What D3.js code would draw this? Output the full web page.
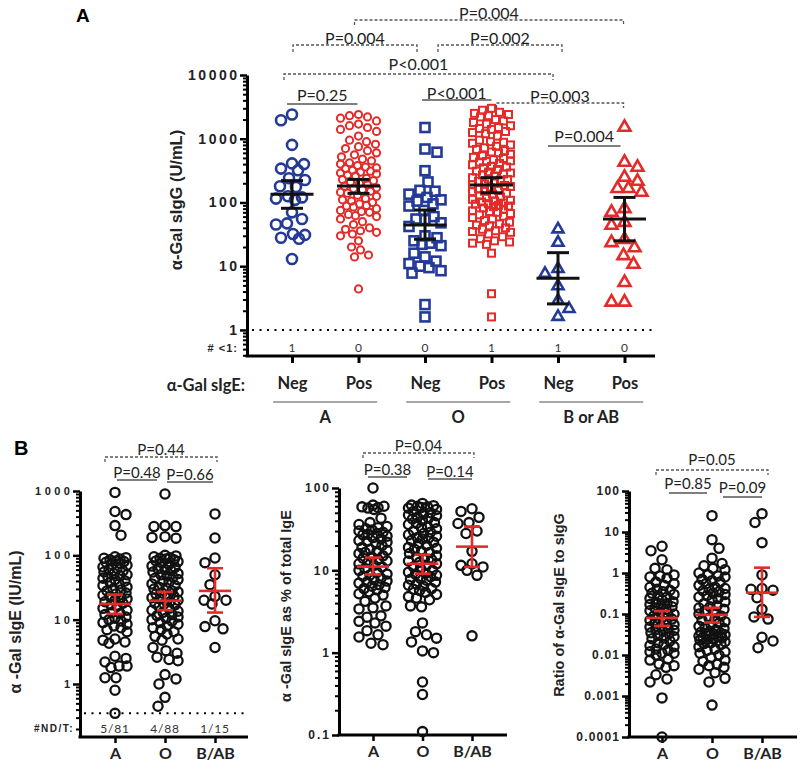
<!DOCTYPE html>
<html><head><meta charset="utf-8">
<script src="https://cdn.jsdelivr.net/npm/d3@7"></script>
<style>body{margin:0;background:#fff} svg{display:block}</style>
</head><body><svg id="c" width="800" height="770"></svg>
<script>
// ================= DATA =================
// Panel A: alpha-Gal sIgG by blood group and alpha-Gal sIgE status
const aCategories = ["A-Neg","A-Pos","O-Neg","O-Pos","B-Neg","B-Pos"];
const aSigELabels = ["Neg","Pos","Neg","Pos","Neg","Pos"];
const aGroupLabels = ["A","O","B or AB"];
const aBelowOne = [1,0,0,1,1,0];
const aTicks = [1,10,100,1000,10000];

const aANeg = [2400,1950,800,410,400,340,320,240,225,180,175,125,120,115,110,70,55,47,45,32,31,28,27,13];
const aAPos = [2400,2300,2200,2100,1900,1700,1600,1500,1400,1300,1100,950,900,820,750,700,650,600,560,520,
  480,450,420,400,380,360,350,340,320,310,300,290,280,270,260,240,230,220,210,200,190,180,170,165,160,150,145,140,130,125,
  115,110,105,100,95,90,88,85,80,75,72,70,65,62,60,55,50,45,40,38,36,34,32,30,25,20,18,15,14,4.4];
const aONeg = [1500,690,615,315,210,155,150,135,120,110,105,95,88,75,60,55,54,48,42,30,28,25,23,22,21,16,14,12,11,10,9.5,8.5,7.8,2.5,1.6];
const aOPos = [3000,2800,2600,2500,2400,2300,2200,2000,1900,1800,1700,1600,1500,1450,1400,1300,1250,1200,1100,
  950,900,880,850,800,760,720,680,650,620,600,570,540,510,
  490,470,450,440,430,410,390,370,360,350,330,310,300,290,280,270,260,
  245,235,230,225,215,205,195,190,185,178,170,162,155,150,148,140,135,128,122,
  118,112,108,105,102,98,96,94,90,88,86,82,78,74,72,70,67,64,61,
  58,55,52,49,46,44,43,40,38,36,35,34,32,29,27,25,24,23,22,16,3.7,1.6];
const aBNeg = [39,24,9.3,7.8,5,2.95,2.2,1.65];
const aBPos = [1550,437,365,255,220,170,170,148,82,72,50,45,27,24,20,15,11,5.7,2.8,2.8];
const aSeries = [aANeg,aAPos,aONeg,aOPos,aBNeg,aBPos];
const aMean = [134,182,44.5,188,6.5,55];
const aCILow = [81,139,26.5,142,2.56,25];
const aCIHigh = [220,230,76,245,16.3,120];
const aPLabels = ["P=0.004","P=0.004","P=0.002","P<0.001","P=0.25","P<0.001","P=0.003","P=0.004"];
const aPFrom = [1,0,2,0,0,2,3,4];
const aPTo = [5,2,4,4,1,3,5,5];
const aPDashed = [true,true,true,true,false,false,true,false];

// Panel B
const bCategories = ["A","O","B/AB"];
const b1NDT = ["5/81","4/88","1/15"];
const b1Ticks = [1,10,100,1000];
const b2Ticks = [0.1,1,10,100];
const b3Ticks = [0.0001,0.001,0.01,0.1,1,10,100];

const b1A = [950,480,430,290,205,95,92,90,88,85,82,80,78,75,72,70,66,63,60,57,55,52,50,
  48,46,44,42,40,38,36,34,32,30,29,28,26,25,24,23,22,21,20,
  19,18,17,16,15,14,13,12.5,12,11,10.5,10,9.5,9,8.5,8,7.5,
  7,6.5,5,4.8,4.5,4.3,2.7,2.5,2.2,1.9,1.9,1.8,1.25,1.25,0.8,0.35];
const b1O = [900,290,280,280,195,190,185,100,98,95,92,90,88,85,82,80,76,72,68,65,62,60,58,55,52,50,
  48,46,44,42,40,38,36,34,32,31,30,28,27,26,25,24,23,22,21,20,
  19,18,17.5,17,16,15,14,13.5,13,12,11.5,11,10.5,10,9.5,9,8.5,8,
  7.5,7,6.5,6,5.5,5,4.8,3.7,3.3,3.0,2.6,2.4,2.3,1.4,1.2,1.0,0.62,0.45];
const b1B = [440,186,91,77,50,35,23,20,20,17.5,9.6,7.8,7.2,3.7];
const b1Mean = [17.5,19.7,28];
const b1Low = [12.3,14,12.9];
const b1High = [24.5,27,63];

const b2A = [100,62,60,59,58,57,55,43,38,36,34,33,32,31,30,29,28,27.5,27,26,25,24,23,22.5,22,21,20,
  19,18,17.5,17,16.5,16,15,14.5,14,13.5,13,12.5,12,11.5,11,10.5,10,
  9.5,9,8.8,8.5,8,7.7,7.4,7.2,7,6.7,6.4,6.2,6,5.8,5.5,5.2,5,
  4.6,4.2,3.7,3.5,3.4,2.8,2.7,2.4,2.3,2.1,1.85,1.65,1.55,1.3,1.25];
const b2O = [65,62,61,60,59,58,57,55,52,50,48,47,46,44,43,42,40,38,37,36,
  34,33,32,30,29,28,27,26,25,24.5,24,23,22,21,20,
  19,18.5,18,17,16.5,16,15,14.5,14,13.5,13,12.5,12,11.5,11,10.5,10,
  9.5,9.2,9,8.7,8.4,8,7.8,7.6,7.2,6.8,6.6,6.4,6,5.9,5.7,5.4,5.1,
  4.8,4.6,4.4,3.7,3.6,2.3,1.8,1.65,1.5,1.35,1.05,1.0,0.44,0.31,0.11];
const b2B = [56,52,44,38,37,30,28,17,12,11.5,11,10,8.7,1.6];
const b2Mean = [11.1,12,19.4];
const b2Low = [8.9,9.1,11];
const b2High = [14.3,15.5,34];

const b3A = [4.5,3.5,2.1,1.3,1.2,0.9,0.85,0.8,0.75,0.6,0.55,0.5,
  0.45,0.4,0.38,0.35,0.32,0.3,0.28,0.26,0.24,0.22,0.2,0.19,0.18,0.17,0.16,0.15,0.14,0.13,0.12,0.11,0.1,
  0.095,0.09,0.085,0.08,0.075,0.07,0.065,0.06,0.055,0.05,0.048,0.045,0.042,0.04,0.038,0.035,0.033,0.03,
  0.028,0.026,0.025,0.022,0.02,0.018,0.017,0.016,0.014,0.013,0.012,0.011,0.011,0.01,
  0.008,0.0075,0.006,0.0055,0.005,0.0033,0.0026,0.0022,0.0009,0.0001];
const b3O = [25,6.5,4,2.3,1.7,1.5,1.3,1.2,1.0,0.9,0.85,0.8,0.7,0.65,0.6,0.55,0.5,
  0.45,0.42,0.4,0.37,0.35,0.32,0.3,0.28,0.26,0.24,0.22,0.2,0.18,0.16,0.15,0.14,0.13,0.12,0.11,0.1,
  0.09,0.08,0.075,0.07,0.065,0.06,0.055,0.05,0.047,0.044,0.041,0.038,0.036,0.034,0.033,0.032,0.031,0.03,
  0.029,0.028,0.027,0.026,0.025,0.024,0.023,0.022,0.021,0.02,0.019,
  0.018,0.016,0.014,0.013,0.012,0.011,0.01,0.0085,0.0075,0.007,0.006,0.0055,0.005,
  0.0045,0.0037,0.0027,0.0022,0.0006];
const b3B = [28,17,5.5,0.9,0.42,0.4,0.38,0.25,0.13,0.085,0.075,0.027,0.022,0.015];
const b3Mean = [0.08,0.095,0.33];
const b3Low = [0.051,0.062,0.085];
const b3High = [0.118,0.142,1.35];

const bPLabels = [["P=0.44","P=0.48","P=0.66"],["P=0.04","P=0.38","P=0.14"],["P=0.05","P=0.85","P=0.09"]];

// ================= DRAWING =================
const svg = d3.select("#c");
const BLUE = "#233a97", RED = "#e52b2a";
const FT = "Lato, 'Open Sans', sans-serif";
const FA = "'Liberation Sans', Arial, sans-serif";

function minorTicks(lo, hi){
  const t=[];
  for(let e=Math.floor(Math.log10(lo)); e<=Math.ceil(Math.log10(hi)); e++){
    for(let m=2;m<=9;m++){const v=m*Math.pow(10,e); if(v>=lo*0.999 && v<=hi) t.push(v);}
  }
  return t;
}

function drawYAxis(g, y, ticks, minorLo, fontSize, ls){
  const minors = minorTicks(minorLo, ticks[ticks.length-1]);
  g.append("g").call(d3.axisLeft(y).tickValues(minors).tickSize(4).tickFormat("").tickSizeOuter(0))
    .call(s=>{s.select(".domain").remove(); s.selectAll("line").attr("stroke","#000").attr("stroke-width",2);});
  g.append("g").call(d3.axisLeft(y).tickValues(ticks).tickSize(7).tickSizeOuter(0)
      .tickFormat(d=> d>=1 ? d3.format("d")(d) : String(d)))
    .call(s=>{s.select(".domain").attr("stroke","#000").attr("stroke-width",3);
      s.selectAll("line").attr("stroke","#000").attr("stroke-width",2.5);
      s.selectAll("text").attr("font-family",FA).attr("font-weight","bold").attr("font-size",fontSize)
        .attr("letter-spacing",ls).attr("dx",ls).attr("fill","#222");});
}

// beeswarm: place each point as close to the centre as possible without overlap,
// within a maximum half-width; if no free slot exists, take the least crowded one.
function swarm(values, y, cx, diam, maxHalf){
  const pts = values.map(v=>({v, y:y(v)})).sort((a,b)=>a.y-b.y);
  const placed=[];
  const cands=[0];
  for(let k=1;k<=maxHalf;k++){cands.push(k); cands.push(-k);}
  pts.forEach((p,idx)=>{
    let best=0, bestD=-1;
    const near = placed.filter(q=>Math.abs(q.y-p.y)<diam);
    for(const c0 of cands){
      const c = (idx%2 ? -c0 : c0);
      let minD=Infinity;
      for(const q of near){ const d=Math.hypot(q.dx-c, q.y-p.y); if(d<minD) minD=d; }
      if(minD>=diam){ best=c; bestD=minD; break; }
      if(minD>bestD+0.01){ bestD=minD; best=c; }
    }
    p.dx=best; p.x=cx+best; placed.push(p);
  });
  return pts;
}

function drawMean(g, x, y, mean, lo, hi, half, cap, color, sw){
  g.append("line").attr("x1",x-half).attr("x2",x+half).attr("y1",y(mean)).attr("y2",y(mean)).attr("stroke",color).attr("stroke-width",sw);
  g.append("line").attr("x1",x).attr("x2",x).attr("y1",y(lo)).attr("y2",y(hi)).attr("stroke",color).attr("stroke-width",sw);
  [lo,hi].forEach(v=>g.append("line").attr("x1",x-cap).attr("x2",x+cap).attr("y1",y(v)).attr("y2",y(v)).attr("stroke",color).attr("stroke-width",sw));
}

function bracket(g, x1, x2, yy, tick, label, dashed, textY, fs){
  if(dashed){
    g.append("path").attr("d",`M${x1},${yy+tick}V${yy}H${x2}V${yy+tick}`).attr("fill","none")
      .attr("stroke","#555").attr("stroke-width",1.3).attr("stroke-dasharray","3,2");
  } else {
    g.append("line").attr("x1",x1).attr("x2",x2).attr("y1",yy).attr("y2",yy).attr("stroke","#555").attr("stroke-width",1.5);
  }
  g.append("text").attr("x",(x1+x2)/2).attr("y",textY).attr("text-anchor","middle").attr("dominant-baseline","central")
    .attr("font-family",FT).attr("font-size",fs).attr("fill","#222").text(label);
}

// ---------- Panel A ----------
{
  const g = svg.append("g");
  const x = d3.scalePoint().domain(d3.range(6)).range([292,624.5]);
  const y = d3.scaleLog().domain([0.39,10000]).range([356,75]);
  drawYAxis(g.append("g").attr("transform","translate(247,0)"), y, aTicks, 0.4, 14, 2.5);
  g.append("g").attr("transform","translate(0,356)")
    .call(d3.axisBottom(x).tickSize(7).tickSizeOuter(0).tickPadding(14).tickFormat(i=>aSigELabels[i]))
    .call(s=>{s.select(".domain").attr("d","M245.5,0H655").attr("stroke","#000").attr("stroke-width",3);
      s.selectAll("line").attr("stroke","#000").attr("stroke-width",3);
      s.selectAll("text").attr("font-family",FT).attr("font-weight","bold").attr("font-size",16.5).attr("fill","#222");});
  g.append("line").attr("x1",252).attr("x2",655).attr("y1",y(1)).attr("y2",y(1))
    .attr("stroke","#000").attr("stroke-width",2).attr("stroke-dasharray","2,5.5");
  g.append("text").attr("x",238).attr("y",348).attr("text-anchor","end").attr("dominant-baseline","central")
    .attr("font-family",FA).attr("font-weight","bold").attr("font-size",11).attr("letter-spacing",1).attr("fill","#222").text("# <1:");
  aBelowOne.forEach((c,i)=>g.append("text").attr("x",x(i)).attr("y",347).attr("text-anchor","middle").attr("dominant-baseline","central")
    .attr("font-family",FT).attr("font-size",12).attr("fill","#333").text(c));
  g.append("text").attr("x",245).attr("y",385).attr("text-anchor","end").attr("dominant-baseline","central")
    .attr("font-family",FT).attr("font-weight","bold").attr("font-size",16.5).attr("fill","#222").text("α-Gal sIgE:");
  aGroupLabels.forEach((lab,k)=>{
    const cx = (x(2*k)+x(2*k+1))/2;
    g.append("line").attr("x1",cx-52).attr("x2",cx+52).attr("y1",402).attr("y2",402).attr("stroke","#888").attr("stroke-width",1.5);
    g.append("text").attr("x",cx).attr("y",417).attr("text-anchor","middle").attr("dominant-baseline","central")
      .attr("font-family",FT).attr("font-weight","bold").attr("font-size",16.5).attr("fill","#222").text(lab);
  });
  g.append("text").attr("transform","translate(176,200) rotate(-90)").attr("text-anchor","middle").attr("dominant-baseline","central")
    .attr("font-family",FA).attr("font-weight","bold").attr("font-size",16.5).attr("fill","#222").text("α-Gal sIgG (U/mL)");
  g.append("text").attr("x",76).attr("y",15).attr("dominant-baseline","central").attr("font-family",FA).attr("font-weight","bold").attr("font-size",19).text("A");

  const styles = [
    {shape:"circle", color:BLUE, size:5, sw:2.6, diam:12, half:16},
    {shape:"circle", color:RED, size:3.6, sw:2, diam:9, half:18},
    {shape:"square", color:BLUE, size:9, sw:2.6, diam:11.5, half:16},
    {shape:"square", color:RED, size:7, sw:2, diam:8.5, half:19},
    {shape:"triangle", color:BLUE, size:11, sw:2.6, diam:13, half:14},
    {shape:"triangle", color:RED, size:12, sw:2.6, diam:13, half:17}
  ];
  aSeries.forEach((vals,i)=>{
    const st = styles[i];
    const pts = swarm(vals, y, x(i), st.diam, st.half);
    const pg = g.append("g").attr("fill","none").attr("stroke",st.color).attr("stroke-width",st.sw);
    pts.forEach(p=>{
      if(st.shape==="circle") pg.append("circle").attr("cx",p.x).attr("cy",p.y).attr("r",st.size);
      else if(st.shape==="square") pg.append("rect").attr("x",p.x-st.size/2).attr("y",p.y-st.size/2).attr("width",st.size).attr("height",st.size);
      else { const s=st.size, h=s*0.87; pg.append("path").attr("d",`M${p.x},${p.y-h*0.6}L${p.x+s/2},${p.y+h*0.4}L${p.x-s/2},${p.y+h*0.4}Z`); }
    });
    drawMean(g, x(i), y, aMean[i], aCILow[i], aCIHigh[i], 21.5, 11, "#111", 3);
  });
  const lay = [ {y:20,t:5,ty:12,o1:-4,o2:-1}, {y:45,t:7,ty:37,o1:1,o2:-8}, {y:45,t:7,ty:37,o1:13,o2:4},
    {y:74,t:6,ty:63,o1:-8,o2:-5}, {y:104,t:0,ty:94,o1:-5,o2:-1}, {y:100,t:0,ty:92,o1:-3,o2:0},
    {y:103,t:5,ty:95,o1:5,o2:-1}, {y:146,t:0,ty:135,o1:-10,o2:-4} ];
  aPLabels.forEach((lab,k)=>{
    const L=lay[k];
    bracket(g, x(aPFrom[k])+L.o1, x(aPTo[k])+L.o2, L.y, L.t, lab, aPDashed[k], L.ty, 16);
  });
}

// ---------- Panel B ----------
svg.append("text").attr("x",14).attr("y",448).attr("dominant-baseline","central").attr("font-family",FA).attr("font-weight","bold").attr("font-size",20).text("B");

const bPanels = [
  {data:[b1A,b1O,b1B], mean:b1Mean, lo:b1Low, hi:b1High, ticks:b1Ticks, dom:[0.15,1000], range:[737,491], ax:80, xr:[115,215], xend:248,
   minorLo:0.2, fs:11, ls:3.5, label:"α -Gal sIgE (IU/mL)", lx:15, ly:622, lfs:16, half:[12,13,12],
   br:[{x1:105,x2:217,y:457,t:5,ty:449,d:true},{x1:117,x2:157,y:480,t:0,ty:472,d:false},{x1:167,x2:213,y:482,t:0,ty:474,d:false}]},
  {data:[b2A,b2O,b2B], mean:b2Mean, lo:b2Low, hi:b2High, ticks:b2Ticks, dom:[0.1,100], range:[735,488], ax:339, xr:[373,472], xend:507,
   minorLo:0.1, fs:12, ls:2, label:"α -Gal sIgE as % of total IgE", lx:286, ly:606, lfs:14.5, half:[14,14,14],
   br:[{x1:363,x2:474,y:453,t:5,ty:445,d:true},{x1:368,x2:407,y:477,t:0,ty:469,d:false},{x1:428,x2:472,y:479,t:0,ty:471,d:false}]},
  {data:[b3A,b3O,b3B], mean:b3Mean, lo:b3Low, hi:b3High, ticks:b3Ticks, dom:[0.0001,100], range:[737,491], ax:629, xr:[662,762], xend:797,
   minorLo:0.0001, fs:12, ls:1.2, label:"Ratio of α-Gal sIgE to sIgG", lx:559, ly:605, lfs:14.5, half:[12,13,14],
   br:[{x1:656,x2:768,y:470,t:5,ty:459,d:true},{x1:669,x2:707,y:493,t:0,ty:483,d:false},{x1:723,x2:762,y:497,t:0,ty:487,d:false}]}
];

bPanels.forEach((P,pi)=>{
  const g = svg.append("g");
  const y = d3.scaleLog().domain(P.dom).range(P.range);
  const x = d3.scalePoint().domain(bCategories).range(P.xr);
  drawYAxis(g.append("g").attr("transform",`translate(${P.ax},0)`), y, P.ticks, P.minorLo, P.fs, P.ls);
  g.append("g").attr("transform",`translate(0,${P.range[0]})`)
    .call(d3.axisBottom(x).tickSize(6).tickSizeOuter(0).tickPadding(5))
    .call(s=>{s.select(".domain").attr("d",`M${P.ax-1.5},0H${P.xend}`).attr("stroke","#000").attr("stroke-width",3);
      s.selectAll("line").attr("stroke","#000").attr("stroke-width",2.5);
      s.selectAll("text").attr("font-family",FT).attr("font-weight","bold").attr("font-size",16).attr("fill","#222");});
  g.append("text").attr("transform",`translate(${P.lx},${P.ly}) rotate(-90)`).attr("text-anchor","middle").attr("dominant-baseline","central")
    .attr("font-family",FA).attr("font-weight","bold").attr("font-size",P.lfs).attr("fill","#222").text(P.label);
  if(pi===0){
    g.append("line").attr("x1",84).attr("x2",248).attr("y1",y(0.35)).attr("y2",y(0.35)).attr("stroke","#000").attr("stroke-width",2).attr("stroke-dasharray","2,5.5");
    g.append("text").attr("x",74).attr("y",728).attr("text-anchor","end").attr("dominant-baseline","central")
      .attr("font-family",FA).attr("font-weight","bold").attr("font-size",10).attr("letter-spacing",1.5).attr("fill","#222").text("#ND/T:");
    b1NDT.forEach((t,i)=>g.append("text").attr("x",x(bCategories[i])).attr("y",728).attr("text-anchor","middle").attr("dominant-baseline","central")
      .attr("font-family",FT).attr("font-size",12).attr("letter-spacing",0.8).attr("fill","#333").text(t));
  }
  P.data.forEach((vals,i)=>{
    const cx = x(bCategories[i]);
    const pts = swarm(vals, y, cx, 11, P.half[i]);
    const pg = g.append("g").attr("fill","none").attr("stroke","#111").attr("stroke-width",2.3);
    pts.forEach(p=>pg.append("circle").attr("cx",p.x).attr("cy",p.y).attr("r",4.6));
  });
  P.data.forEach((vals,i)=>{
    drawMean(g, x(bCategories[i]), y, P.mean[i], P.lo[i], P.hi[i], 16, 8, RED, 2.6);
  });
  P.br.forEach((b,k)=>bracket(g, b.x1, b.x2, b.y, b.t, bPLabels[pi][k], b.d, b.ty, 15));
});
</script></body></html>
